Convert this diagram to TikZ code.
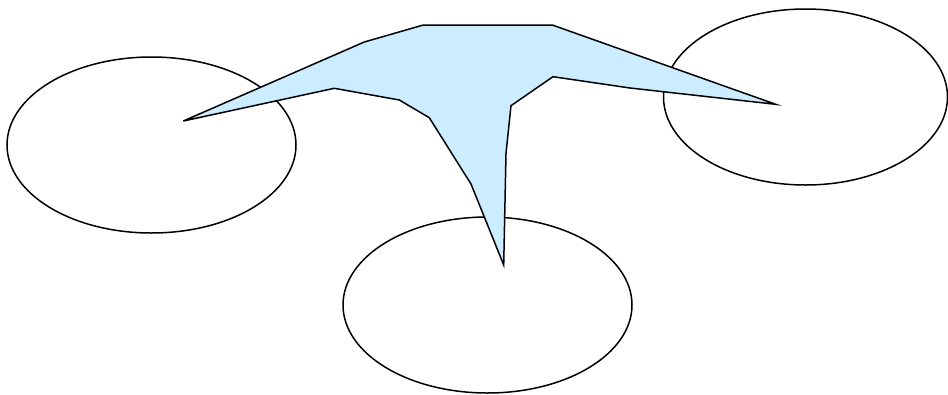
\documentclass[tikz,border=0pt]{standalone}
\usetikzlibrary{shapes.geometric}
\definecolor{starblue}{RGB}{204,236,255}
\begin{document}
\begin{tikzpicture}[x=1pt,y=-1pt,
  oval/.style={draw=black,line width=1.5pt,ellipse,minimum width=#1,minimum height=176pt,inner sep=0pt},
  star/.style={draw=black,fill=starblue,line width=1.5pt,line join=miter}]
\useasboundingbox (0,0) rectangle (948,394);
\node[oval=289pt] (left) at (151.5,145) {};
\node[oval=289pt] (bottom) at (487.5,305) {};
\node[oval=284pt] (right) at (805.5,97) {};
\draw[star] (183.3,121) -- (334.3,88.3) -- (399.3,100) -- (429.3,117.7) -- (471,184)
  -- (503.7,265) -- (506,153.3) -- (511,105.7) -- (553,76.7) -- (630,88)
  -- (775.7,104.3) -- (552.3,25) -- (423.3,25) -- (364.3,42) -- cycle;
\end{tikzpicture}
\end{document}
